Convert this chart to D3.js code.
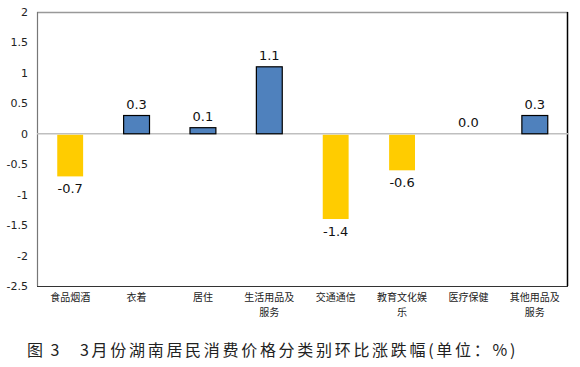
<!DOCTYPE html>
<html><head><meta charset="utf-8">
<script src="https://cdn.jsdelivr.net/npm/d3@7"></script>
<style>body{margin:0;background:#fff;}</style>
</head><body>
<svg id="c" width="580" height="367"></svg>
<script>
const categories = ["食品烟酒","衣着","居住","生活用品及服务","交通通信","教育文化娱乐","医疗保健","其他用品及服务"];
const catLines = [["食品烟酒"],["衣着"],["居住"],["生活用品及","服务"],["交通通信"],["教育文化娱","乐"],["医疗保健"],["其他用品及","服务"]];
const values = [-0.7, 0.3, 0.1, 1.1, -1.4, -0.6, 0.0, 0.3];
const yTicks = [2, 1.5, 1, 0.5, 0, -0.5, -1, -1.5, -2, -2.5];
const titleLabel = "图 3";
const titleText = "3月份湖南居民消费价格分类别环比涨跌幅(单位：%)";

const svg = d3.select("#c");
const L = 37, R = 568, T = 12, B = 286;
const x = d3.scaleBand().domain(categories).range([L, R]).paddingInner(0.61).paddingOuter(0.305);
const y = d3.scaleLinear().domain([-2.5, 2]).range([B, T]);

// frame
svg.append("line").attr("x1", L).attr("x2", R).attr("y1", T+0.5).attr("y2", T+0.5).attr("stroke", "#999").attr("stroke-width", 1.5);
svg.append("line").attr("x1", R-0.5).attr("x2", R-0.5).attr("y1", T).attr("y2", B).attr("stroke", "#000").attr("stroke-width", 1.5);
svg.append("line").attr("x1", L).attr("x2", R).attr("y1", B+0.5).attr("y2", B+0.5).attr("stroke", "#333").attr("stroke-width", 1.2);
svg.append("line").attr("x1", L+0.5).attr("x2", L+0.5).attr("y1", T).attr("y2", B).attr("stroke", "#777").attr("stroke-width", 1.2);

// y axis labels
const yAxis = d3.axisLeft(y).tickValues(yTicks).tickSize(0).tickPadding(9).tickFormat(d => String(d));
const ga = svg.append("g").attr("transform", `translate(${L},0)`).call(yAxis);
ga.select(".domain").remove();
ga.selectAll("text").attr("font-family", "DejaVu Sans").attr("font-size", 11).attr("fill", "#222");

// zero line
svg.append("line").attr("x1", L).attr("x2", R).attr("y1", y(0)).attr("y2", y(0)).attr("stroke", "#bfbfbf").attr("stroke-width", 1.5);

// bars
svg.selectAll("rect.bar").data(values).enter().append("rect")
  .attr("x", (d,i) => x(categories[i]))
  .attr("width", x.bandwidth())
  .attr("y", d => d >= 0 ? y(d) : y(0)+1)
  .attr("height", d => Math.abs(y(d) - y(0)) - (d>=0?0:1))
  .attr("fill", d => d >= 0 ? "#4f81bd" : "#ffcc00")
  .attr("stroke", d => d >= 0 ? "#000" : "none")
  .attr("stroke-width", 1.2);

// value labels
svg.selectAll("text.val").data(values).enter().append("text")
  .attr("x", (d,i) => x(categories[i]) + x.bandwidth()/2)
  .attr("y", d => d >= 0 ? y(d) - 7 : y(d) + 17)
  .attr("text-anchor", "middle")
  .attr("font-family", "DejaVu Sans").attr("font-size", 13).attr("fill", "#111")
  .text(d => d.toFixed(1));

// category labels
catLines.forEach((lines, i) => {
  const t = svg.append("text").attr("text-anchor", "middle")
    .attr("font-family", "Noto Sans CJK SC").attr("font-size", 10).attr("fill", "#222");
  lines.forEach((s, j) => {
    t.append("tspan").attr("x", x(categories[i]) + x.bandwidth()/2).attr("y", 301 + j*15).text(s);
  });
});

// title
svg.append("text").attr("x", 27).attr("y", 356)
  .attr("font-family", "Noto Sans CJK SC").attr("font-size", 16).attr("fill", "#222")
  .attr("letter-spacing", 2)
  .text(titleLabel);
const tt = svg.append("text").attr("x", 80).attr("y", 356)
  .attr("font-family", "Noto Sans CJK SC").attr("font-size", 16).attr("fill", "#222")
  .text(titleText);
const w = tt.node().getComputedTextLength();
const n = titleText.length;
tt.attr("letter-spacing", Math.max(0, (438 - w) / n));
</script>
</body></html>
